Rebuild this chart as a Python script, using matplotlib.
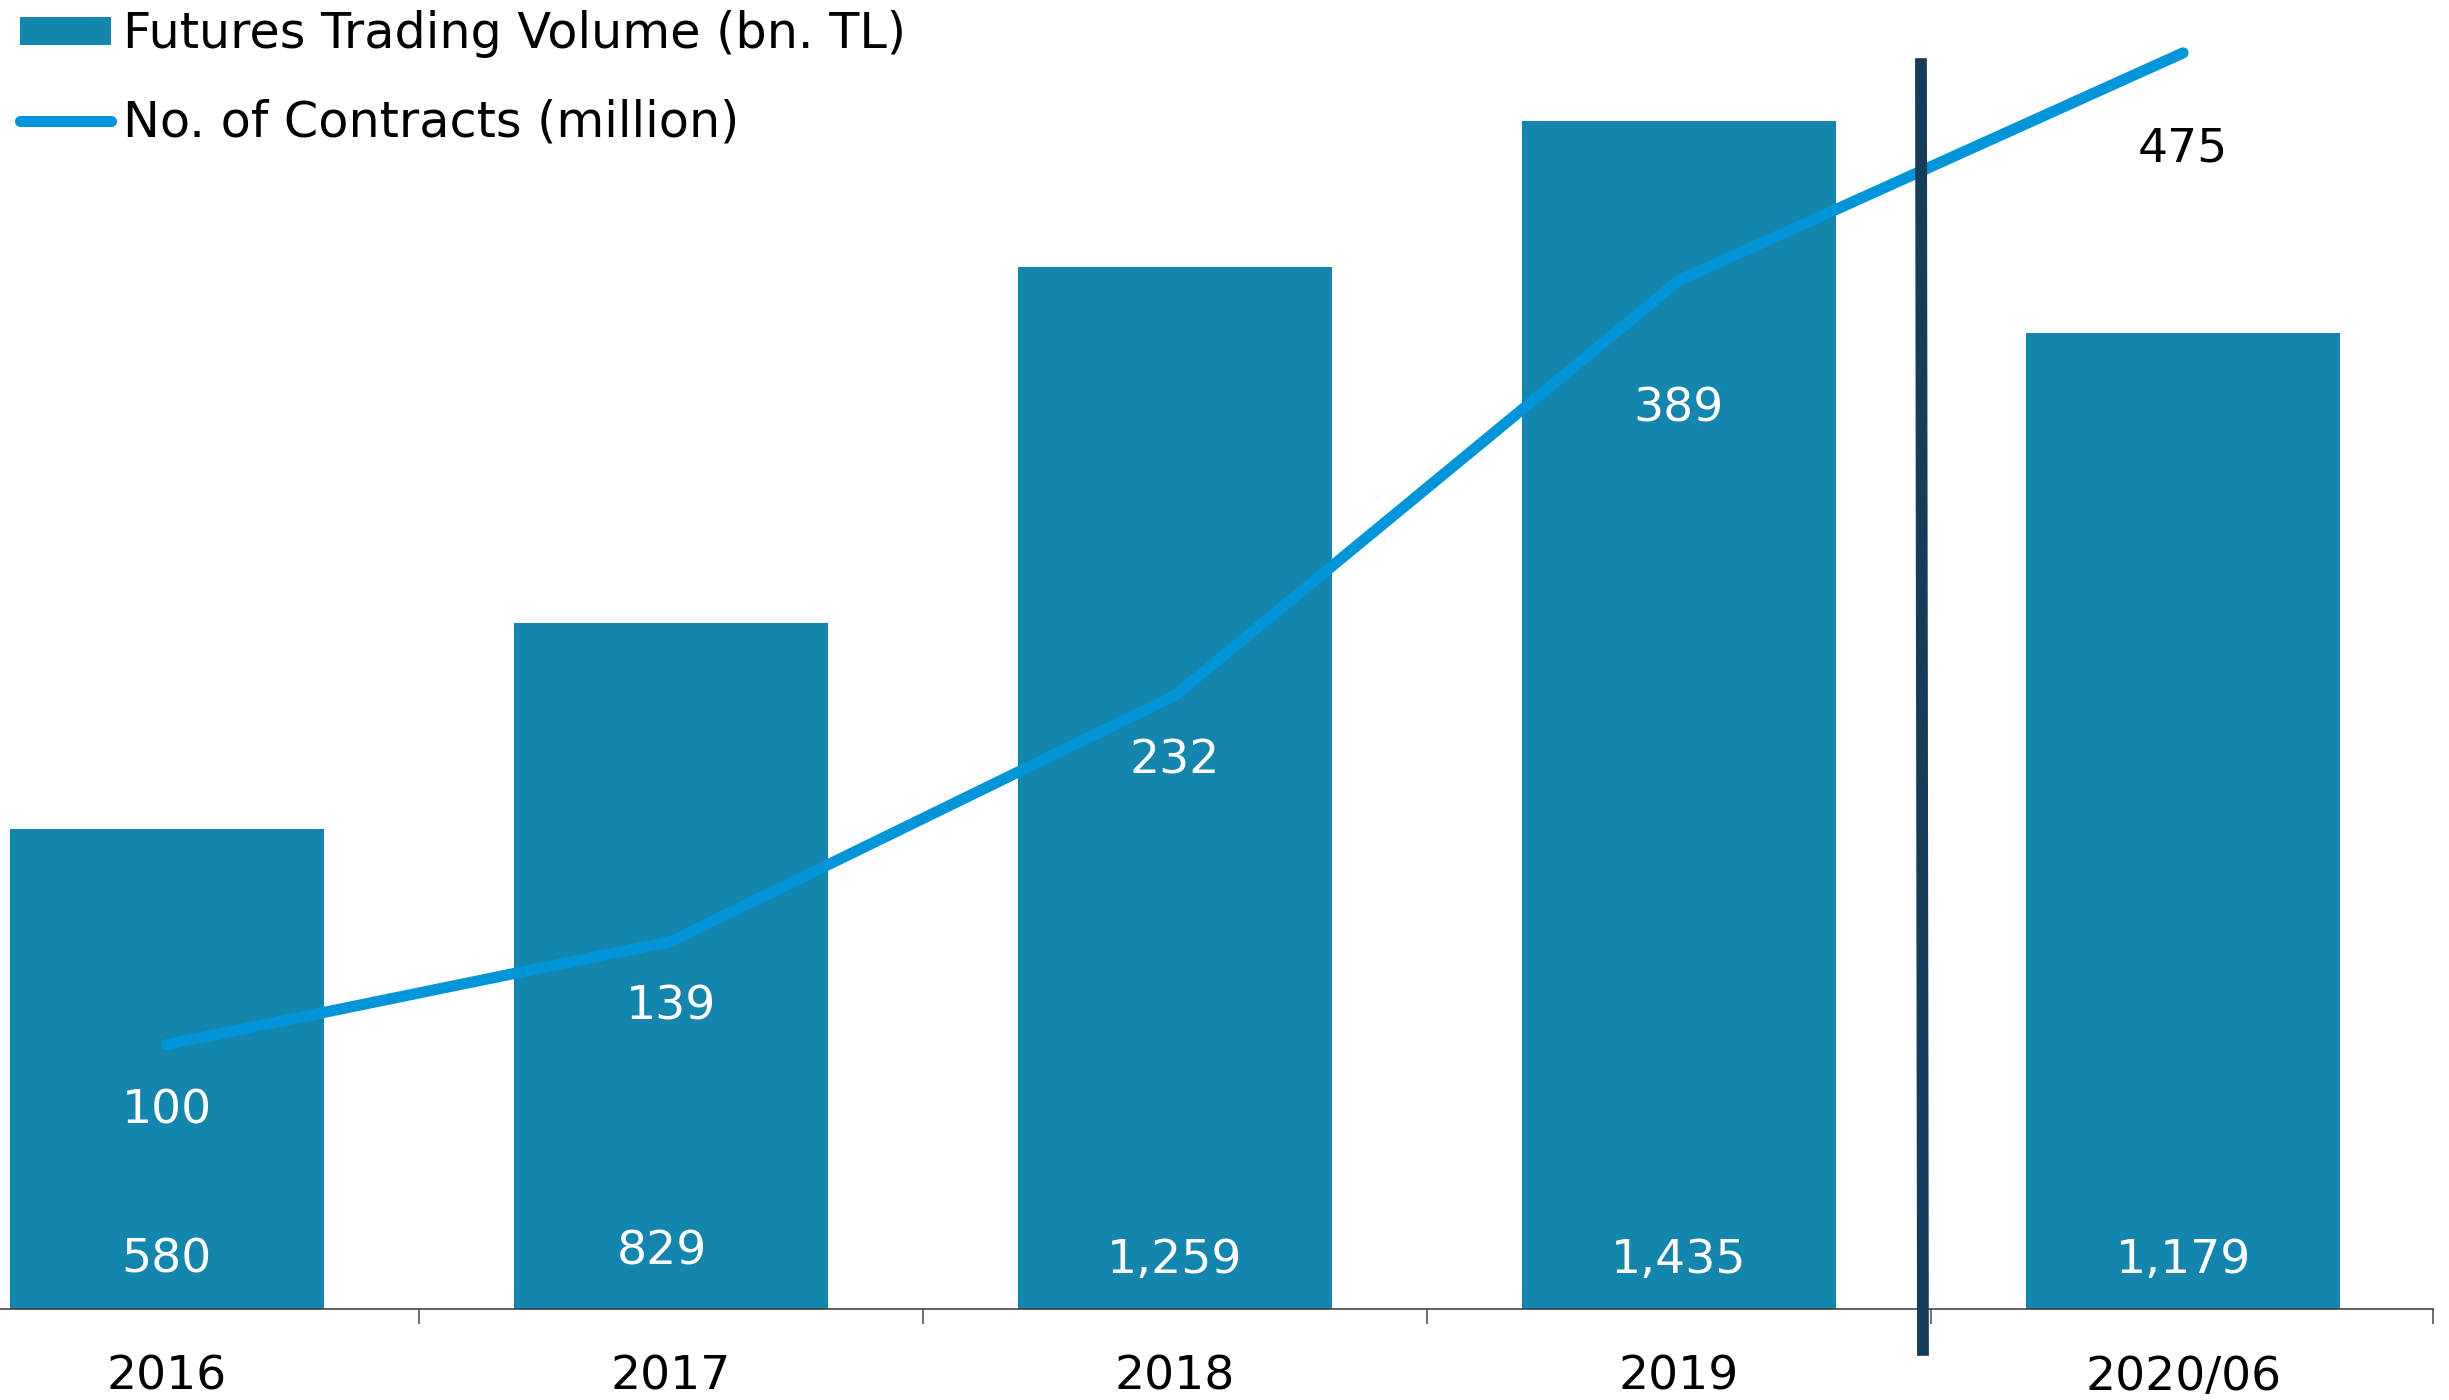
import matplotlib
matplotlib.use("Agg")
import matplotlib.pyplot as plt
from matplotlib.patches import Patch
from matplotlib.lines import Line2D

years = ["2016", "2017", "2018", "2019", "2020/06"]
volume = [580, 829, 1259, 1435, 1179]
contracts = [100, 139, 232, 389, 475]
volume_labels = ["580", "829", "1,259", "1,435", "1,179"]
contract_labels = ["100", "139", "232", "389", "475"]

bar_color = "#1485ad"
line_color = "#0095d9"
divider_color = "#173c5a"

plt.rcParams["font.family"] = ["DejaVu Sans"]

fig = plt.figure(figsize=(24.49, 14), dpi=100)
ax = fig.add_axes([0, 0.065, 0.9935, 0.935])
ax2 = ax.twinx()

x = list(range(len(years)))
ax.bar(x, volume, width=0.623, color=bar_color, zorder=1)
ax.set_xlim(-0.331, 4.496)
ax.set_ylim(0, 1581)
ax2.set_ylim(0, 495)

ax2.plot(x, contracts, color=line_color, lw=8, solid_capstyle="round", zorder=3)

# bar value labels (white, at the bottom of each bar)
bar_dy = [-35, -41, -35, -35, -35]
bar_dx = [0, -6.5, 0, 0, 0]
for xi, v, lab, dx, dy in zip(x, volume, volume_labels, bar_dx, bar_dy):
    ax.annotate(lab, (xi, 0), xytext=(dx, -dy), textcoords="offset points",
                ha="center", va="center", color="white", fontsize=34, zorder=5)

# contract labels below the line points
line_dy = [48, 47, 47, 93, 69]
line_txt_color = ["white", "white", "white", "white", "black"]
for xi, v, lab, dy, c in zip(x, contracts, contract_labels, line_dy, line_txt_color):
    ax2.annotate(lab, (xi, v), xytext=(0, -dy), textcoords="offset points",
                 ha="center", va="center", color=c, fontsize=34, zorder=5)

# divider between full years and 2020/06
ax2.plot([3.480, 3.484], [473, -17.7], color=divider_color, lw=8.5,
         solid_capstyle="butt", clip_on=False, zorder=4)

for a in (ax, ax2):
    for s in ["top", "right", "left"]:
        a.spines[s].set_visible(False)
ax2.spines["bottom"].set_visible(False)
ax.spines["bottom"].set_color("#444444")
ax.spines["bottom"].set_linewidth(1.2)

ax.set_yticks([])
ax2.set_yticks([])
ax.set_xticks(x)
ax.set_xticklabels(years, fontsize=34)
ax.tick_params(axis="x", which="major", length=0, pad=33)
ax.set_xticks([0.5, 1.5, 2.5, 3.5, 4.495], minor=True)
ax.tick_params(axis="x", which="minor", length=11, width=1.2, color="#555555")

handles = [Patch(facecolor=bar_color, edgecolor="none"),
           Line2D([0], [0], color=line_color, lw=8, solid_capstyle="round")]
leg = fig.legend(handles, ["Futures Trading Volume (bn. TL)", "No. of Contracts (million)"],
                 loc="upper left", bbox_to_anchor=(0.005, 0.998), frameon=False,
                 fontsize=35.5, handlelength=1.85, handleheight=0.5,
                 handletextpad=0.25, labelspacing=0.82, borderaxespad=0, borderpad=0.15)

fig.savefig("out.png", dpi=100)
